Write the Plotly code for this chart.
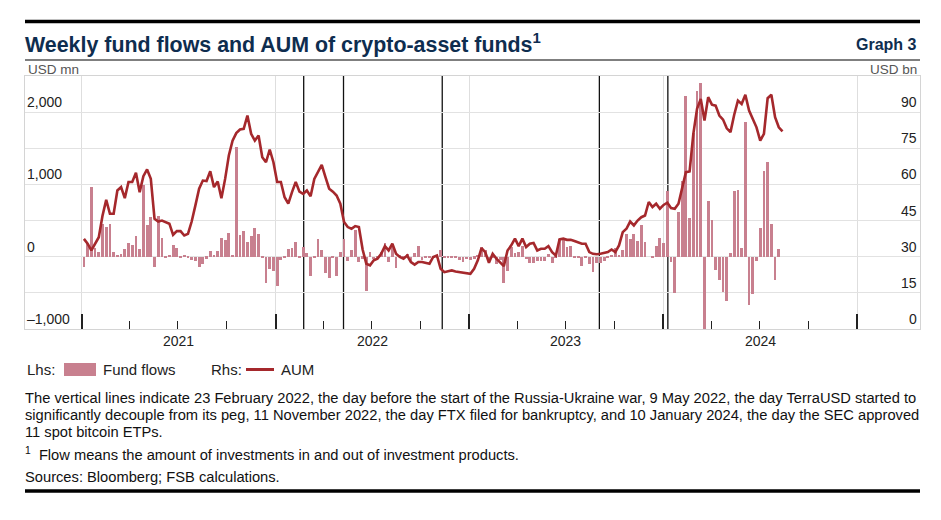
import plotly.graph_objects as go
import pandas as pd

# page body has an 8px margin: draw in a 933x512 figure, coordinates given in page pixels
OFF = 8
W, H = 941 - OFF, 520 - OFF

# ---------------- data ----------------
flows = [
    -140, 170, 965, 118, 72, 458, 418, 452, 72, 12,
    36, 102, 195, 160, 292, 112, 995, 442, 545, -145,
    568, 255, -8, 25, 168, 115, -12, 24, -18, -42,
    -62, -145, -100, -25, 82, 30, 82, 258, 235, 330,
    15, 1512, 300, 362, 200, 292, 398, 318, -5, -364,
    -165, -202, -410, -42, -8, 110, 122, 198, -5, 140,
    48, -261, -5, 248, 95, -220, -298, -10, -270, 72,
    248, -60, 95, 370, -78, -25, -480, 72, -35, -5,
    68, 188, -68, 182, -158, 10, -10, 37, -88, 48,
    145, -42, -10, -10, -5, -12, 90, -5, -10, -10,
    -5, -50, -72, -38, -45, -25, 10, 140, 90, -90,
    -10, -105, -45, -360, -200, 140, 45, 70, 150, -35,
    -80, -80, -60, -60, -60, 37, -90, -5, 250, 250,
    140, 150, -5, -10, -130, -10, -105, -205, -90, -80,
    -55, -5, 10, 115, 30, 87, 320, 240, 310, 220,
    437, 200, 0, -10, 145, 258, 188, 905, -78, -502,
    618, 1042, 2222, 542, 1712, 2298, 2398, -1080, 766, 505,
    -190, -320, -485, -615, 55, 910, 920, 125, 1865, -667,
    -520, -60, 400, 1180, 1315, 455, -320, 100,
]

aum = [
    37.4, 35.4, 32.6, 35.4, 38.1, 47.0, 53.6, 47.8, 47.8, 57.5,
    58.9, 54.3, 61.0, 61.0, 64.8, 56.8, 63.4, 66.2, 62.3, 45.7,
    44.6, 45.0, 44.4, 43.7, 39.1, 40.6, 40.6, 38.8, 39.5, 44.6,
    51.3, 58.2, 61.6, 61.4, 65.5, 58.9, 61.2, 54.3, 62.3, 72.0,
    78.2, 81.3, 82.8, 83.1, 88.6, 81.0, 78.2, 80.3, 71.3, 69.2,
    74.5, 69.2, 61.0, 61.0, 54.7, 52.0, 56.8, 61.0, 57.0, 56.1,
    57.5, 55.1, 62.3, 65.0, 68.1, 63.0, 58.2, 57.0, 55.4, 52.0,
    44.4, 42.3, 41.6, 42.7, 42.3, 33.0, 27.1, 26.4, 28.5, 29.2,
    31.2, 34.4, 32.6, 35.4, 31.2, 29.9, 29.2, 30.5, 27.8, 26.7,
    27.8, 27.8, 27.5, 27.1, 29.9, 30.5, 25.0, 23.6, 24.0, 24.3,
    23.9, 23.6, 23.2, 22.9, 22.9, 25.0, 28.5, 33.6, 31.9, 27.5,
    31.2, 29.2, 27.8, 26.1, 32.6, 34.7, 37.5, 34.4, 37.5, 34.0,
    35.4, 35.7, 32.6, 33.3, 33.3, 34.4, 31.9, 30.5, 37.2, 37.5,
    37.0, 37.0, 36.5, 35.8, 35.4, 35.4, 31.9, 31.2, 31.0, 31.2,
    31.4, 31.9, 33.0, 31.9, 34.7, 40.2, 41.6, 44.6, 43.0, 45.0,
    46.4, 47.1, 52.7, 50.6, 52.0, 49.9, 51.5, 52.4, 50.2, 49.9,
    52.0, 58.9, 65.1, 65.4, 81.0, 91.4, 95.5, 86.5, 96.2, 93.1,
    92.7, 88.6, 86.9, 83.3, 81.7, 88.9, 94.8, 93.4, 97.2, 90.7,
    87.5, 83.7, 78.2, 81.0, 95.8, 97.2, 87.9, 83.7, 82.0,
]

first_week = "2021-01-05"
dates = pd.date_range(first_week, periods=len(aum), freq="7D")
flow_dates = dates[:len(flows)]

event_dates = ["2022-02-23", "2022-05-09", "2022-11-11", "2023-09-03", "2024-01-10"]
years = [2021, 2022, 2023, 2024]
year_labels = ["2021", "2022", "2023", "2024"]
left_ticks = [2000, 1000, 0, -1000]
left_tick_text = ["2,000", "1,000", "0", "\u20131,000"]
right_ticks = [90, 75, 60, 45, 30, 15, 0]

BAR = "#c8808f"
LINE = "#a5282c"
NAVY = "#0e2d4f"
FONT = "Liberation Sans, Arial, sans-serif"

def px(x):
    return (x - OFF) / W

def py(y):
    return 1 - (y - OFF) / H

fig = go.Figure()
fig.add_trace(go.Bar(
    x=flow_dates, y=flows, marker=dict(color=BAR, line=dict(width=0)),
    width=5.3 * 86400000, name="Fund flows", showlegend=False,
))
fig.add_trace(go.Scatter(
    x=dates, y=aum, yaxis="y2", mode="lines",
    line=dict(color=LINE, width=2.6), name="AUM", showlegend=False,
))

year_ticks = [f"{y}-01-01" for y in years + [years[-1] + 1]]
quarter_ticks = [f"{y}-{m:02d}-01" for y in years for m in (4, 7, 10)]

fig.update_layout(
    width=W, height=H, margin=dict(l=0, r=0, t=0, b=0),
    paper_bgcolor="white", plot_bgcolor="white",
    font=dict(family=FONT, size=14, color="#222"),
    bargap=0,
    xaxis=dict(
        domain=[px(25), px(920)], type="date",
        range=["2020-09-16", "2025-04-29"],
        tickmode="array", tickvals=year_ticks, showticklabels=False,
        ticks="inside", ticklen=15, tickwidth=1.6, tickcolor="#222",
        showgrid=True, gridcolor="#dedede", gridwidth=1,
        showline=True, linecolor="#d4d4d4", linewidth=1, mirror=True,
        zeroline=False,
        minor=dict(tickmode="array", tickvals=quarter_ticks, ticks="inside",
                   ticklen=8, tickwidth=1.3, tickcolor="#222", showgrid=False),
    ),
    yaxis=dict(
        domain=[py(329), py(76)], range=[-1000, 2500],
        tick0=0, dtick=500, showticklabels=False, ticks="",
        showgrid=True, gridcolor="#e2e2e2", gridwidth=1,
        showline=True, linecolor="#d4d4d4", linewidth=1, mirror=True,
        zeroline=False,
    ),
    yaxis2=dict(
        overlaying="y", side="right", range=[0, 105],
        showgrid=False, showticklabels=False, showline=False, zeroline=False,
    ),
)

shapes = []
for d in event_dates:
    shapes.append(dict(type="line", xref="x", yref="paper", x0=d, x1=d,
                       y0=py(329), y1=py(76), line=dict(color="#111", width=1.3),
                       layer="between"))
# rules
shapes.append(dict(type="line", xref="paper", yref="paper", x0=px(25), x1=px(920),
                   y0=py(21.5), y1=py(21.5), line=dict(color="#000", width=3.5)))
shapes.append(dict(type="line", xref="paper", yref="paper", x0=px(25), x1=px(920),
                   y0=py(60), y1=py(60), line=dict(color="#000", width=1.2)))
shapes.append(dict(type="line", xref="paper", yref="paper", x0=px(25), x1=px(920),
                   y0=py(491), y1=py(491), line=dict(color="#000", width=3.5)))
# legend swatches
shapes.append(dict(type="rect", xref="paper", yref="paper", x0=px(64), x1=px(96),
                   y0=py(376), y1=py(363), fillcolor=BAR, line=dict(width=0)))
shapes.append(dict(type="line", xref="paper", yref="paper", x0=px(246), x1=px(274),
                   y0=py(369.5), y1=py(369.5), line=dict(color=LINE, width=3)))
fig.update_layout(shapes=shapes)

ann = []
def text(x, y, s, size=14, color="#222", anchor="left", bold=False, **kw):
    ann.append(dict(x=x, y=y, xref=kw.pop("xref", "paper"), yref=kw.pop("yref", "paper"),
                    text=f"<b>{s}</b>" if bold else s, showarrow=False,
                    xanchor=anchor, yanchor=kw.pop("yanchor", "middle"),
                    font=dict(size=size, color=color, family=FONT), **kw))

text(px(23), py(43), "Weekly fund flows and AUM of crypto-asset funds<sup>1</sup>", size=21.4, color=NAVY, bold=True)
text(px(919), py(44), "Graph 3", size=16, color=NAVY, anchor="right", bold=True)
text(px(26), py(69), "USD mn", size=13.5, color="#555")
text(px(919), py(69), "USD bn", size=13.5, color="#555", anchor="right")

for v, t in zip(left_ticks, left_tick_text):
    text(px(25), v, t, size=14, color="#222", yref="y", yshift=10)
for v in right_ticks:
    text(px(919), v, str(v), size=14, color="#222", anchor="right", yref="y2", yshift=10)
for y, lab in zip(years, year_labels):
    text(f"{y}-07-02", py(341), lab, size=14, color="#222", anchor="center", xref="x")

text(px(25), py(369.5), "Lhs:", size=15)
text(px(101), py(369.5), "Fund flows", size=15)
text(px(209), py(369.5), "Rhs:", size=15)
text(px(279), py(369.5), "AUM", size=15)

notes = [
    "The vertical lines indicate 23 February 2022, the day before the start of the Russia-Ukraine war, 9 May 2022, the day TerraUSD started to",
    "significantly decouple from its peg, 11 November 2022, the day FTX filed for bankruptcy, and 10 January 2024, the day the SEC approved",
    "11 spot bitcoin ETPs.",
]
for i, s in enumerate(notes):
    text(px(23), py(398 + 17 * i), s, size=14.7, color="#111")
text(px(23), py(454), "<sup>1</sup>  Flow means the amount of investments in and out of investment products.", size=14.7, color="#111")
text(px(23), py(477), "Sources: Bloomberg; FSB calculations.", size=14.7, color="#111")

fig.update_layout(annotations=ann)
fig.write_html("out.html")
